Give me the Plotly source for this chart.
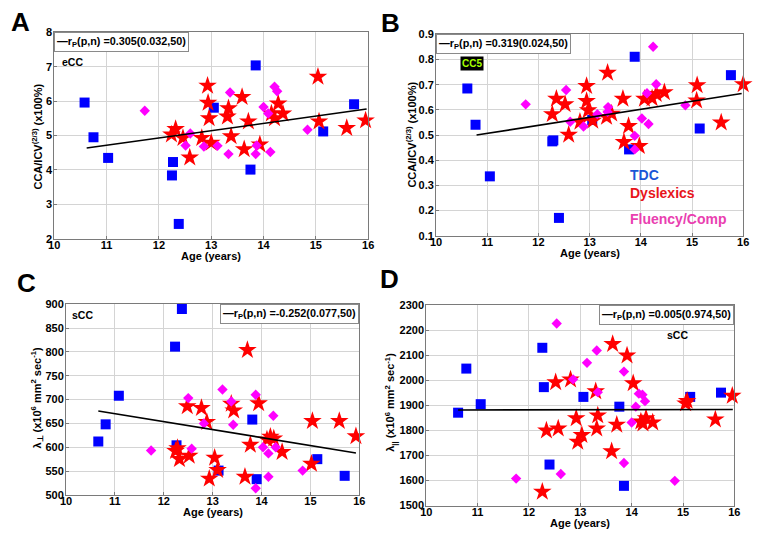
import plotly.graph_objects as go

W, H = 762, 540

# ---------------- data ----------------
# Panel A: eCC CCA/ICV^(2/3)
tdc_age_A = [10.58, 10.75, 11.03, 12.25, 12.27, 12.38, 13.05, 13.75, 13.85, 15.14, 15.73]
tdc_val_A = [5.96, 4.95, 4.35, 3.84, 4.23, 2.43, 5.81, 4.01, 7.04, 5.12, 5.91]
dys_age_A = [12.24, 12.32, 12.46, 12.59, 12.82, 12.93, 12.94, 12.96, 13.0, 13.33, 13.31, 13.38,
             13.59, 13.71, 13.63, 13.93, 14.15, 14.28, 14.37, 14.21, 15.04, 15.06, 15.59, 15.95]
dys_val_A = [5.03, 5.19, 4.93, 4.36, 4.93, 6.45, 5.95, 5.5, 4.79, 5.79, 5.55, 4.98,
             6.12, 5.41, 4.6, 4.74, 5.64, 5.93, 5.64, 5.5, 6.71, 5.41, 5.22, 5.44]
flu_age_A = [11.73, 12.51, 12.60, 12.86, 13.12, 13.33, 13.36, 13.85, 13.87, 14.0, 14.09, 14.13, 14.21, 14.26, 14.84]
flu_val_A = [5.72, 4.71, 5.06, 4.68, 4.70, 4.46, 6.25, 4.46, 4.71, 5.83, 5.64, 4.52, 6.42, 6.29, 5.17]
fit_age_A = [10.62, 15.97]
fit_val_A = [4.64, 5.77]

# Panel B: CC5 CCA/ICV^(2/3)
tdc_age_B = [10.61, 10.77, 11.05, 12.27, 12.29, 12.40, 13.05, 13.77, 13.88, 15.15, 15.76]
tdc_val_B = [0.685, 0.541, 0.336, 0.475, 0.479, 0.171, 0.560, 0.443, 0.811, 0.526, 0.738]
dys_age_B = [12.27, 12.35, 12.52, 12.59, 12.81, 12.94, 12.94, 12.97, 13.06, 13.35, 13.33, 13.43,
             13.65, 13.76, 13.67, 13.97, 14.07, 14.22, 14.30, 14.46, 15.10, 15.09, 15.57, 16.0]
dys_val_B = [0.583, 0.644, 0.622, 0.501, 0.553, 0.635, 0.695, 0.598, 0.557, 0.747, 0.572, 0.585,
             0.644, 0.536, 0.472, 0.456, 0.644, 0.646, 0.663, 0.670, 0.698, 0.637, 0.550, 0.702]
flu_age_B = [11.75, 12.54, 12.62, 12.88, 13.15, 13.36, 13.35, 13.88, 13.88, 14.02, 14.15, 14.12, 14.24, 14.30, 14.87]
flu_val_B = [0.622, 0.679, 0.553, 0.534, 0.583, 0.611, 0.592, 0.497, 0.443, 0.566, 0.544, 0.666, 0.851, 0.702, 0.618]
fit_age_B = [10.79, 15.97]
fit_val_B = [0.50, 0.665]

# Panel C: sCC lambda_perp
tdc_age_C = [10.66, 10.81, 11.08, 12.23, 12.26, 12.37, 13.12, 13.81, 13.90, 15.14, 15.70]
tdc_val_C = [612, 648, 708, 811, 604, 890, 551, 658, 533, 575, 540]
dys_age_C = [12.24, 12.28, 12.32, 12.48, 12.52, 12.77, 12.88, 12.93, 13.04, 13.10, 13.38, 13.43,
             13.66, 13.71, 13.77, 13.94, 14.11, 14.18, 14.25, 14.42, 15.02, 15.04, 15.59, 15.93]
dys_val_C = [592, 598, 575, 686, 582, 682, 653, 534, 578, 552, 691, 677,
             538, 804, 605, 692, 616, 622, 618, 590, 565, 655, 655, 623]
flu_age_C = [11.74, 12.50, 12.57, 12.82, 13.20, 13.38, 13.42, 13.88, 13.88, 14.03, 14.14, 14.24, 14.29, 14.14, 14.84]
flu_val_C = [593, 703, 597, 650, 721, 696, 647, 710, 514, 600, 587, 666, 600, 538, 551]
fit_age_C = [10.66, 15.93]
fit_val_C = [676, 588]

# Panel D: sCC lambda_parallel
tdc_age_D = [10.62, 10.78, 11.06, 12.26, 12.29, 12.40, 13.06, 13.76, 13.85, 15.14, 15.74]
tdc_val_D = [1871, 2047, 1905, 2130, 1973, 1664, 1934, 1895, 1579, 1934, 1951]
dys_age_D = [12.26, 12.34, 12.52, 12.57, 12.81, 12.92, 12.95, 13.03, 13.30, 13.32, 13.34, 13.61,
             13.63, 13.71, 13.91, 14.03, 14.18, 14.22, 14.28, 14.41, 15.05, 15.08, 15.63, 15.96]
dys_val_D = [1555, 1800, 1992, 1808, 2003, 1849, 1755, 1782, 1956, 1808, 1860, 1717,
             2145, 1823, 2099, 1988, 1836, 1828, 1849, 1832, 1908, 1918, 1844, 1938]
flu_age_D = [11.75, 12.54, 12.62, 12.86, 13.13, 13.32, 13.34, 13.85, 13.85, 14.0, 14.08, 14.14, 14.21, 14.26, 14.84]
flu_val_D = [1608, 2227, 1626, 2004, 2070, 2119, 1953, 2035, 1670, 1832, 1895, 1947, 1943, 1917, 1599]
fit_age_D = [10.62, 15.97]
fit_val_D = [1882, 1884]

corr_labels = ["0.305(0.032,50)", "0.319(0.024,50)", "-0.252(0.077,50)", "0.005(0.974,50)"]
group_names = ["TDC", "Dyslexics", "Fluency/Comp"]
x_ticks = [10, 11, 12, 13, 14, 15, 16]
y_ranges = [[2, 8], [0.1, 0.9], [500, 900], [1500, 2300]]
y_dticks = [1, 0.1, 50, 100]

# ---------------- layout helpers ----------------
FONT = "Liberation Sans, Arial, sans-serif"
BLUE, RED, MAG = "#0000ff", "#ff0000", "#ff00ff"

# plot-area pixel boxes (left, right, top, bottom)
boxes = [(49, 368, 27, 238), (437, 749, 29, 235), (61, 359, 305, 500), (427, 740, 306, 511)]

def px(x):
    return x / W

def py(y):
    return 1 - y / H

panels = [
    (tdc_age_A, tdc_val_A, dys_age_A, dys_val_A, flu_age_A, flu_val_A, fit_age_A, fit_val_A),
    (tdc_age_B, tdc_val_B, dys_age_B, dys_val_B, flu_age_B, flu_val_B, fit_age_B, fit_val_B),
    (tdc_age_C, tdc_val_C, dys_age_C, dys_val_C, flu_age_C, flu_val_C, fit_age_C, fit_val_C),
    (tdc_age_D, tdc_val_D, dys_age_D, dys_val_D, flu_age_D, flu_val_D, fit_age_D, fit_val_D),
]

fig = go.Figure()
for i, (ta, tv, da, dv, fa, fv, ka, kv) in enumerate(panels):
    xa = "x" if i == 0 else f"x{i+1}"
    ya = "y" if i == 0 else f"y{i+1}"
    fig.add_trace(go.Scatter(x=ta, y=tv, mode="markers", xaxis=xa, yaxis=ya, name=group_names[0],
                             marker=dict(symbol="square", size=10, color=BLUE, line=dict(width=0)),
                             cliponaxis=False, showlegend=False))
    fig.add_trace(go.Scatter(x=da, y=dv, mode="markers", xaxis=xa, yaxis=ya, name=group_names[1],
                             marker=dict(symbol="star", size=14, color=RED, line=dict(width=0)),
                             cliponaxis=False, showlegend=False))
    fig.add_trace(go.Scatter(x=fa, y=fv, mode="markers", xaxis=xa, yaxis=ya, name=group_names[2],
                             marker=dict(symbol="diamond", size=8, color=MAG, line=dict(width=0)),
                             cliponaxis=False, showlegend=False))
    fig.add_trace(go.Scatter(x=ka, y=kv, mode="lines", xaxis=xa, yaxis=ya,
                             line=dict(color="black", width=1.6), showlegend=False))

layout = {}
for i, (l, r, t, b) in enumerate(boxes):
    sx = "xaxis" if i == 0 else f"xaxis{i+1}"
    sy = "yaxis" if i == 0 else f"yaxis{i+1}"
    ya = "y" if i == 0 else f"y{i+1}"
    xa = "x" if i == 0 else f"x{i+1}"
    common = dict(showgrid=True, gridcolor="#d4d4d4", gridwidth=1, zeroline=False,
                  showline=True, mirror=True, linecolor="#7a7a7a", linewidth=1,
                  ticks="inside", ticklen=3, tickcolor="#7a7a7a",
                  tickfont=dict(family=FONT, size=11, color="black", weight="bold"))
    layout[sx] = dict(common, domain=[px(l), px(r)], range=[10, 16], tickvals=x_ticks,
                      anchor=ya, fixedrange=True, ticklabelstandoff=-4)
    layout[sy] = dict(common, domain=[py(b), py(t)], range=y_ranges[i], dtick=y_dticks[i],
                      tick0=y_ranges[i][0], anchor=xa, fixedrange=True, ticklabelstandoff=-1)

fig.update_layout(**layout)
fig.update_layout(width=W, height=H, margin=dict(l=0, r=0, t=0, b=0),
                  paper_bgcolor="white", plot_bgcolor="white",
                  font=dict(family=FONT, color="black"))

ann = []
def add_text(x, y, text, size=11, xanchor="center", yanchor="middle", angle=0, color="black", **kw):
    ann.append(dict(x=px(x), y=py(y), xref="paper", yref="paper", text=text, showarrow=False,
                    xanchor=xanchor, yanchor=yanchor, textangle=angle,
                    font=dict(family=FONT, size=size, color=color, weight="bold"), **kw))

# panel letters
add_text(3, 16, "A", size=26, xanchor="left")
add_text(379, 17, "B", size=26, xanchor="left")
add_text(9, 283, "C", size=26, xanchor="left")
add_text(378, 279, "D", size=26, xanchor="left")
add_text(10, 540, "Fig. 3", size=26, xanchor="left", yanchor="top")

# x-axis titles
for (l, r, t, b) in boxes:
    add_text((l + r) / 2, b + 18, "Age (years)", size=11)

# y-axis titles
ytitle_cca = "CCA/ICV<sup>(2/3)</sup> (x100%)"
add_text(32, 133, ytitle_cca, size=11, angle=-90)
add_text(412, 132, ytitle_cca, size=11, angle=-90)
add_text(32, 400, "λ<sub>⊥</sub> (x10<sup>6</sup> mm<sup>2</sup> sec<sup>-1</sup>)", size=11, angle=-90)
add_text(391, 405, "λ<sub>||</sub> (x10<sup>6</sup> mm<sup>2</sup> sec<sup>-1</sup>)", size=11, angle=-90)

# correlation legend boxes
legend_pos = [(49, 27, "left"), (437, 29, "left"), (359, 305, "right"), (740, 306, "right")]
for (x, y, anc), lab in zip(legend_pos, corr_labels):
    add_text(x, y, "—r<sub>P</sub>(p,n) =" + lab, size=10.8, xanchor=anc, yanchor="top",
             bordercolor="#8a8a8a", borderwidth=1, borderpad=2, bgcolor="white")

# region labels
add_text(55, 57, "eCC", size=10.5, xanchor="left")
add_text(473, 59, "CC5", size=10, color="#a6ff00", bgcolor="black", borderpad=1)
add_text(65, 316, "sCC", size=10.5, xanchor="left")
add_text(670, 336, "sCC", size=10.5, xanchor="left")

# group labels
add_text(632, 173, group_names[0], size=14, xanchor="left", color="#1a56d6")
add_text(632, 191, group_names[1], size=14, xanchor="left", color="#e8151b")
add_text(632, 218, group_names[2], size=14, xanchor="left", color="#e940b0")

fig.update_layout(annotations=ann)
fig.write_html("out.html", config={"displayModeBar": False},
               post_script="document.body.style.margin='0';document.body.style.overflow='hidden';")
